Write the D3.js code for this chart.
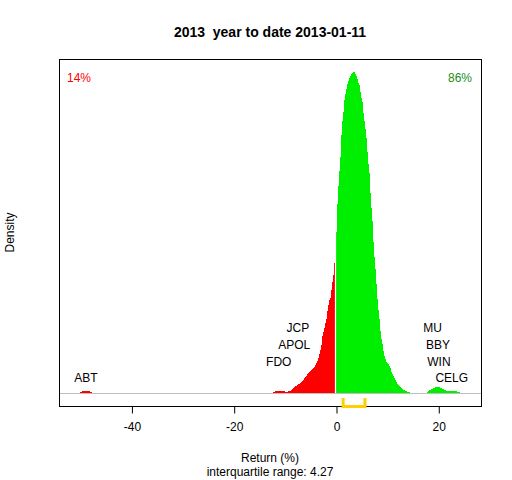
<!DOCTYPE html>
<html>
<head>
<meta charset="utf-8">
<script src="https://cdn.jsdelivr.net/npm/d3@7"></script>
<style>
  html, body { margin: 0; padding: 0; background: #fff; }
  svg { display: block; font-family: "Liberation Sans", Arial, sans-serif; }
  .pre { white-space: pre; }
</style>
</head>
<body>
<svg id="chart" width="512" height="480"></svg>
<script>
// ---- data ----
const title = "2013  year to date 2013-01-11";
const xLabel = "Return (%)";
const yLabel = "Density";
const subLabel = "interquartile range: 4.27";
const pctDown = "14%";
const pctUp = "86%";
const dataRange = [-51.2, 25.2];
const xTicks = [-40, -20, 0, 20];
const iqr = [1.3, 5.57];

const redX = [-51.2, -50.2, -49.8, -49.0, -48.2, -47.6, -12.4, -12.25, -11.7, -10.9, -10.3, -9.7, -9.1, -8.7, -8.35, -7.95, -7.55, -7.2, -6.8, -6.4, -6.0, -5.6, -5.2, -4.8, -4.25, -3.65, -3.25, -2.85, -2.7, -2.3, -1.9, -1.7, -1.3, -1.1, -0.9, -0.7, -0.5, -0.25, 0];
const redY = [0, 0, 0.0006, 0.0009, 0.0006, 0, 0, 0.0004, 0.00075, 0.00075, 0.00065, 0.0004, 0.00075, 0.00135, 0.0020, 0.0025, 0.0029, 0.0034, 0.0040, 0.0048, 0.0057, 0.0067, 0.0074, 0.0081, 0.0092, 0.0116, 0.0141, 0.0176, 0.0204, 0.0232, 0.0263, 0.0298, 0.0330, 0.0337, 0.0372, 0.0400, 0.0424, 0.0494, 0.053];

const greenX = [0, 0.06, 0.25, 0.45, 0.65, 0.84, 1.04, 1.23, 1.43, 1.62, 1.82, 2.01, 2.21, 2.40, 2.60, 2.80, 2.99, 3.19, 3.38, 3.58, 3.77, 3.97, 4.16, 4.36, 4.55, 4.75, 4.94, 5.14, 5.34, 5.53, 5.73, 5.92, 6.12, 6.31, 6.51, 6.70, 6.90, 7.09, 7.29, 7.48, 7.68, 7.88, 8.07, 8.27, 8.46, 8.66, 8.85, 9.05, 9.24, 9.44, 9.63, 9.83, 10.03, 10.22, 10.42, 10.61, 10.81, 11.00, 11.20, 11.39, 11.59, 11.78, 11.98, 12.17, 12.37, 12.76, 13.15, 13.54, 13.93, 14.52, 14.91, 17.64, 18.23, 19.01, 19.80, 20.58, 21.36, 22.14, 23.12, 23.90, 24.29, 25.2];
const greenY = [0.056, 0.0586, 0.0688, 0.0739, 0.0792, 0.0841, 0.0928, 0.0963, 0.0991, 0.1037, 0.1051, 0.1068, 0.1086, 0.1096, 0.1103, 0.1114, 0.1117, 0.1121, 0.1124, 0.1121, 0.1114, 0.1107, 0.1096, 0.1082, 0.1075, 0.1047, 0.1030, 0.1016, 0.0967, 0.0946, 0.0918, 0.0886, 0.0827, 0.0792, 0.0760, 0.0680, 0.0638, 0.0592, 0.0508, 0.0466, 0.0424, 0.0368, 0.0316, 0.0284, 0.0253, 0.0204, 0.0186, 0.0165, 0.0141, 0.0127, 0.0116, 0.0109, 0.0105, 0.0099, 0.0092, 0.0085, 0.0071, 0.0067, 0.0057, 0.0050, 0.0043, 0.0036, 0.0032, 0.0029, 0.0022, 0.0018, 0.0011, 0.0008, 0.0004, 0.0002, 0, 0, 0.0011, 0.0018, 0.0023, 0.0016, 0.0009, 0.0008, 0.0008, 0.0004, 0, 0];

const lowNames = ["ABT", "FDO", "APOL", "JCP"];
const lowX = [-49.0, -11.28, -8.25, -7.56];
const lowY = [0.0055, 0.0111, 0.0169, 0.0230];
const highNames = ["CELG", "WIN", "BBY", "MU"];
const highX = [22.54, 20.03, 19.86, 18.79];
const highY = [0.0055, 0.0111, 0.0169, 0.0230];

// ---- layout ----
const plot = { left: 59, right: 481, top: 59, bottom: 406 };
const svg = d3.select("#chart");

const span = dataRange[1] - dataRange[0];
const x = d3.scaleLinear()
  .domain([dataRange[0] - 0.04 * span, dataRange[1] + 0.04 * span])
  .range([plot.left, plot.right]);
const yMax = d3.max(greenY.concat(redY));
const y = d3.scaleLinear()
  .domain([-0.04 * yMax, 1.04 * yMax])
  .range([plot.bottom, plot.top]);

const redPts = redX.map((v, i) => [v, redY[i]]);
const greenPts = greenX.map((v, i) => [v, greenY[i]]);
const area = d3.area().x(d => x(d[0])).y0(y(0)).y1(d => y(d[1]));

const g = svg.append("g");
g.append("path").datum(redPts).attr("d", area)
  .attr("fill", "#FF0000").attr("shape-rendering", "crispEdges");
g.append("path").datum(greenPts).attr("d", area)
  .attr("fill", "#00EE00").attr("shape-rendering", "crispEdges");

// white divider at zero
g.append("line")
  .attr("x1", Math.round(x(0)) - 0.5).attr("x2", Math.round(x(0)) - 0.5)
  .attr("y1", plot.top).attr("y2", y(0))
  .attr("stroke", "#fff").attr("stroke-width", 1.2);

// baseline
g.append("line")
  .attr("x1", plot.left).attr("x2", plot.right)
  .attr("y1", Math.round(y(0)) + 0.5).attr("y2", Math.round(y(0)) + 0.5)
  .attr("stroke", "#BEBEBE").attr("stroke-width", 1);

// box
svg.append("rect")
  .attr("x", plot.left + 0.5).attr("y", plot.top + 0.5)
  .attr("width", plot.right - plot.left).attr("height", plot.bottom - plot.top)
  .attr("fill", "none").attr("stroke", "#000").attr("stroke-width", 1);

// x axis
const xAxis = d3.axisBottom(x).tickValues(xTicks).tickSize(7).tickPadding(9)
  .tickFormat(d => d < 0 ? "-" + Math.abs(d) : String(d));
const ax = svg.append("g").attr("transform", `translate(0,${plot.bottom + 0.5})`).call(xAxis);
ax.select(".domain").remove();
ax.selectAll("text").attr("font-size", 12).attr("fill", "#000")
  .attr("font-family", "Liberation Sans, Arial, sans-serif");
ax.selectAll("line").attr("stroke", "#000");

// IQR bracket
const bt = plot.bottom - 6.5, bb = plot.bottom + 0.5;
svg.append("path")
  .attr("d", `M${x(iqr[0])},${bt} L${x(iqr[0])},${bb} L${x(iqr[1])},${bb} L${x(iqr[1])},${bt}`)
  .attr("fill", "none").attr("stroke", "#FFD000").attr("stroke-width", 3)
  .attr("stroke-linejoin", "miter").attr("stroke-linecap", "square");

// stock labels
const labelG = svg.append("g").attr("font-size", 12).attr("fill", "#000");
lowNames.forEach((n, i) => {
  labelG.append("text").attr("x", x(lowX[i])).attr("y", y(lowY[i]))
    .attr("dy", "0.35em").attr("text-anchor", "middle").text(n);
});
highNames.forEach((n, i) => {
  labelG.append("text").attr("x", x(highX[i])).attr("y", y(highY[i]))
    .attr("dy", "0.35em").attr("text-anchor", "middle").text(n);
});

// percentages
svg.append("text").attr("x", plot.left + 8).attr("y", 82)
  .attr("font-size", 12).attr("fill", "#FF0000").text(pctDown);
svg.append("text").attr("x", plot.right - 9).attr("y", 82)
  .attr("font-size", 12).attr("fill", "#228B22").attr("text-anchor", "end").text(pctUp);

// titles
const cx = (plot.left + plot.right) / 2;
svg.append("text").attr("class", "pre").attr("xml:space", "preserve")
  .attr("x", cx).attr("y", 37).attr("text-anchor", "middle")
  .attr("font-size", 14).attr("font-weight", "bold").text(title);
svg.append("text").attr("x", cx).attr("y", 462).attr("text-anchor", "middle")
  .attr("font-size", 12).text(xLabel);
svg.append("text").attr("x", cx).attr("y", 476).attr("text-anchor", "middle")
  .attr("font-size", 12).text(subLabel);
svg.append("text").attr("transform", `translate(14,${(plot.top + plot.bottom) / 2}) rotate(-90)`)
  .attr("text-anchor", "middle").attr("font-size", 12).text(yLabel);
</script>
</body>
</html>
